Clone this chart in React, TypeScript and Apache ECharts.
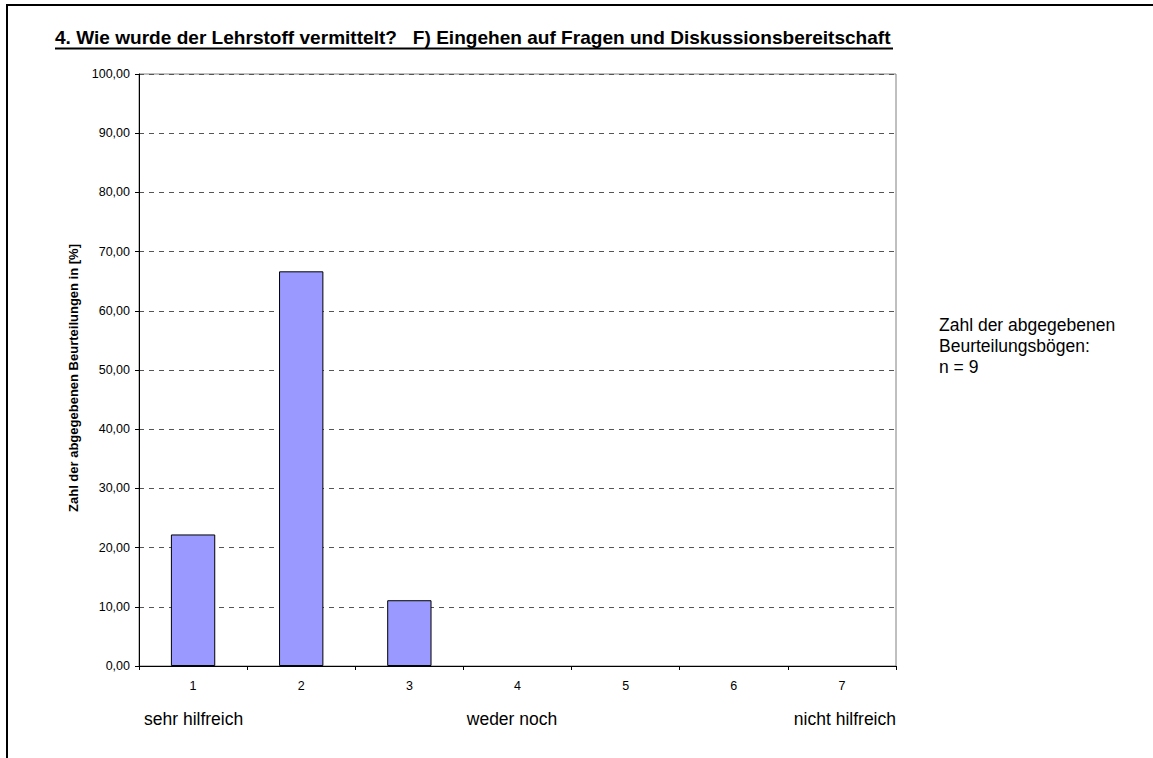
import React, { useEffect, useRef } from "react";
import * as echarts from "echarts";

const categories = ["1", "2", "3", "4", "5", "6", "7"];
const values = [22.22, 66.67, 11.11, 0, 0, 0, 0];
const titleText = "4. Wie wurde der Lehrstoff vermittelt?   F) Eingehen auf Fragen und Diskussionsbereitschaft";
const yAxisName = "Zahl der abgegebenen Beurteilungen in [%]";
const scaleLabels = ["sehr hilfreich", "weder noch", "nicht hilfreich"];
const noteLines = ["Zahl der abgegebenen", "Beurteilungsbögen:", "n = 9"];

export default function App() {
  const ref = useRef<HTMLDivElement>(null);
  useEffect(() => {
    if (!ref.current) return;
    const chart = echarts.init(ref.current, undefined, { renderer: "svg" });
    const font = "Arial, 'Liberation Sans', sans-serif";
    chart.setOption({
      animation: false,
      backgroundColor: "#ffffff",
      grid: {
        left: 139,
        right: 257,
        top: 74,
        bottom: 92,
        show: true,
        borderColor: "#808080",
        borderWidth: 1,
      },
      xAxis: {
        type: "category",
        data: categories,
        boundaryGap: true,
        axisLine: { lineStyle: { color: "#000", width: 1 } },
        axisTick: { show: true, alignWithLabel: false, length: 4, lineStyle: { color: "#000" } },
        axisLabel: { color: "#000", fontSize: 12.5, fontFamily: font, margin: 13 },
      },
      yAxis: {
        type: "value",
        min: 0,
        max: 100,
        interval: 10,
        axisLine: { show: true, lineStyle: { color: "#000", width: 1 } },
        axisTick: { show: true, length: 4, lineStyle: { color: "#000" } },
        axisLabel: {
          color: "#000",
          fontSize: 12.5,
          fontFamily: font,
          margin: 9,
          formatter: (v: number) => v.toFixed(2).replace(".", ","),
        },
        splitLine: { show: true, lineStyle: { color: "#555", type: [5, 5], width: 1 } },
      },
      series: [
        {
          type: "bar",
          data: values.map((v) => (v === 0 ? "-" : v)),
          barWidth: "41%",
          itemStyle: { color: "#9999FF", borderColor: "#000", borderWidth: 1 },
        },
      ],
      graphic: [
        {
          type: "rect",
          shape: { x: 7, y: 5, width: 1200, height: 800 },
          style: { fill: "none", stroke: "#000", lineWidth: 2 },
          silent: true,
        },
        {
          type: "text",
          x: 55,
          y: 29,
          scaleX: 1.06,
          style: {
            text: titleText,
            fontSize: 18,
            fontWeight: "bold",
            fontFamily: font,
            fill: "#000",
            verticalAlign: "top",
          },
        },
        {
          type: "line",
          shape: { x1: 55, y1: 48.5, x2: 893, y2: 48.5 },
          style: { stroke: "#000", lineWidth: 2 },
        },
        {
          type: "text",
          x: 73,
          y: 378,
          rotation: Math.PI / 2,
          style: {
            text: yAxisName,
            fontSize: 13,
            fontWeight: "bold",
            fontFamily: font,
            fill: "#000",
            align: "center",
            verticalAlign: "middle",
          },
        },
        {
          type: "text",
          x: 144,
          y: 719,
          style: { text: scaleLabels[0], fontSize: 17.5, fontFamily: font, fill: "#000", verticalAlign: "middle" },
        },
        {
          type: "text",
          x: 512,
          y: 719,
          style: { text: scaleLabels[1], fontSize: 17.5, fontFamily: font, fill: "#000", align: "center", verticalAlign: "middle" },
        },
        {
          type: "text",
          x: 896,
          y: 719,
          style: { text: scaleLabels[2], fontSize: 17.5, fontFamily: font, fill: "#000", align: "right", verticalAlign: "middle" },
        },
        {
          type: "text",
          left: 939,
          top: 314,
          style: { text: noteLines.join("\n"), fontSize: 17.5, lineHeight: 21, fontFamily: font, fill: "#000" },
        },
      ],
    });
    return () => chart.dispose();
  }, []);
  return (
    <div
      ref={ref}
      style={{ position: "fixed", left: 0, top: 0, width: 1153, height: 758, background: "#fff" }}
    />
  );
}
